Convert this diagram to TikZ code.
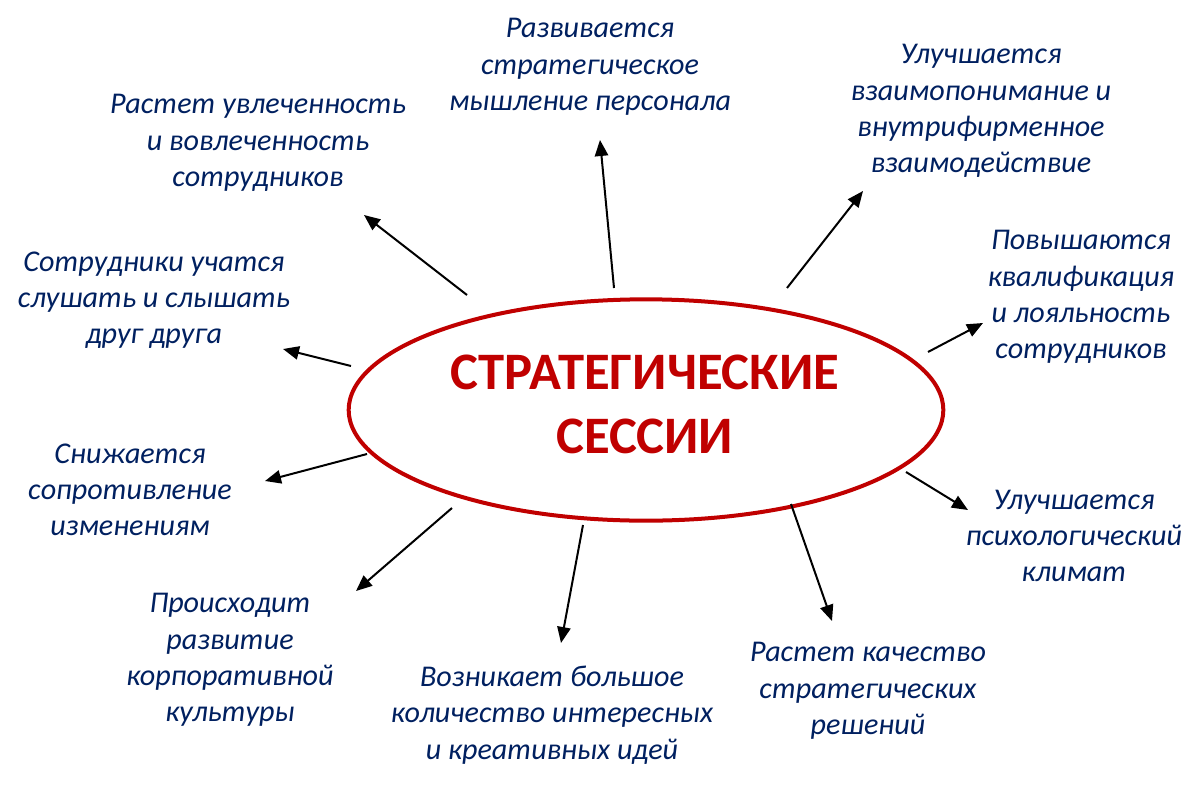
\documentclass[tikz,border=0pt]{standalone}
\usepackage{fontspec}
\setmainfont{Carlito}
\usetikzlibrary{arrows.meta,shapes.geometric}
\definecolor{navy}{HTML}{002060}
\definecolor{titlered}{HTML}{C00000}
\begin{document}
\begin{tikzpicture}[x=0.75pt,y=-0.75pt,
  lbl/.style={font=\fontsize{22.6}{27.2}\selectfont\itshape, text=navy, align=center, inner sep=0pt},
  arr/.style={line width=1.5pt, -{Triangle[length=12pt,width=10pt]}},
  ]
\useasboundingbox (0,0) rectangle (1200,786);
\fill[white] (0,0) rectangle (1200,786);
% central ellipse and title
\node[draw=titlered, line width=3pt, ellipse, minimum width=446pt, minimum height=166pt, inner sep=0pt] (ell) at (646,410) {};
\node[font=\fontsize{39.5}{48}\selectfont\bfseries, text=titlered, align=center, inner sep=0pt] (title) at (645,404) {СТРАТЕГИЧЕСКИЕ\\СЕССИИ};
% labels
\node[lbl] (a) at (590,67) {Развивается\\стратегическое\\мышление персонала};
\node[lbl] (b) at (258,143) {Растет увлеченность\\и вовлеченность\\сотрудников};
\node[lbl] (c) at (981,111) {Улучшается\\взаимопонимание и\\внутрифирменное\\взаимодействие};
\node[lbl] (d) at (154,300) {Сотрудники учатся\\слушать и слышать\\друг друга};
\node[lbl] (e) at (1081,297) {Повышаются\\квалификация\\и лояльность\\сотрудников};
\node[lbl] (f) at (130,490) {Снижается\\сопротивление\\изменениям};
\node[lbl] (g) at (1074,536) {Улучшается\\психологический\\климат};
\node[lbl] (h) at (230,660) {Происходит\\развитие\\корпоративной\\культуры};
\node[lbl] (i) at (552,715) {Возникает большое\\количество интересных\\и креативных идей};
\node[lbl] (j) at (868,691) {Растет качество\\стратегических\\решений};
% arrow end points
\coordinate (sa) at (614,288); \coordinate (ta) at (600,140);
\coordinate (sb) at (467,295); \coordinate (tb) at (364,215);
\coordinate (sc) at (787,288); \coordinate (tc) at (863,191);
\coordinate (sd) at (351,366); \coordinate (td) at (283,349);
\coordinate (se) at (928,352); \coordinate (te) at (983,323);
\coordinate (sf) at (367,454); \coordinate (tf) at (265,481);
\coordinate (sg) at (906,472); \coordinate (tg) at (968,510);
\coordinate (sh) at (452,508); \coordinate (th) at (356,591);
\coordinate (si) at (583,525); \coordinate (ti) at (561,643);
\coordinate (sj) at (791,504); \coordinate (tj) at (832,621);
\foreach \k in {a,b,c,d,e,f,g,h,i,j} \draw[arr] (s\k) -- (t\k);
\end{tikzpicture}
\end{document}
